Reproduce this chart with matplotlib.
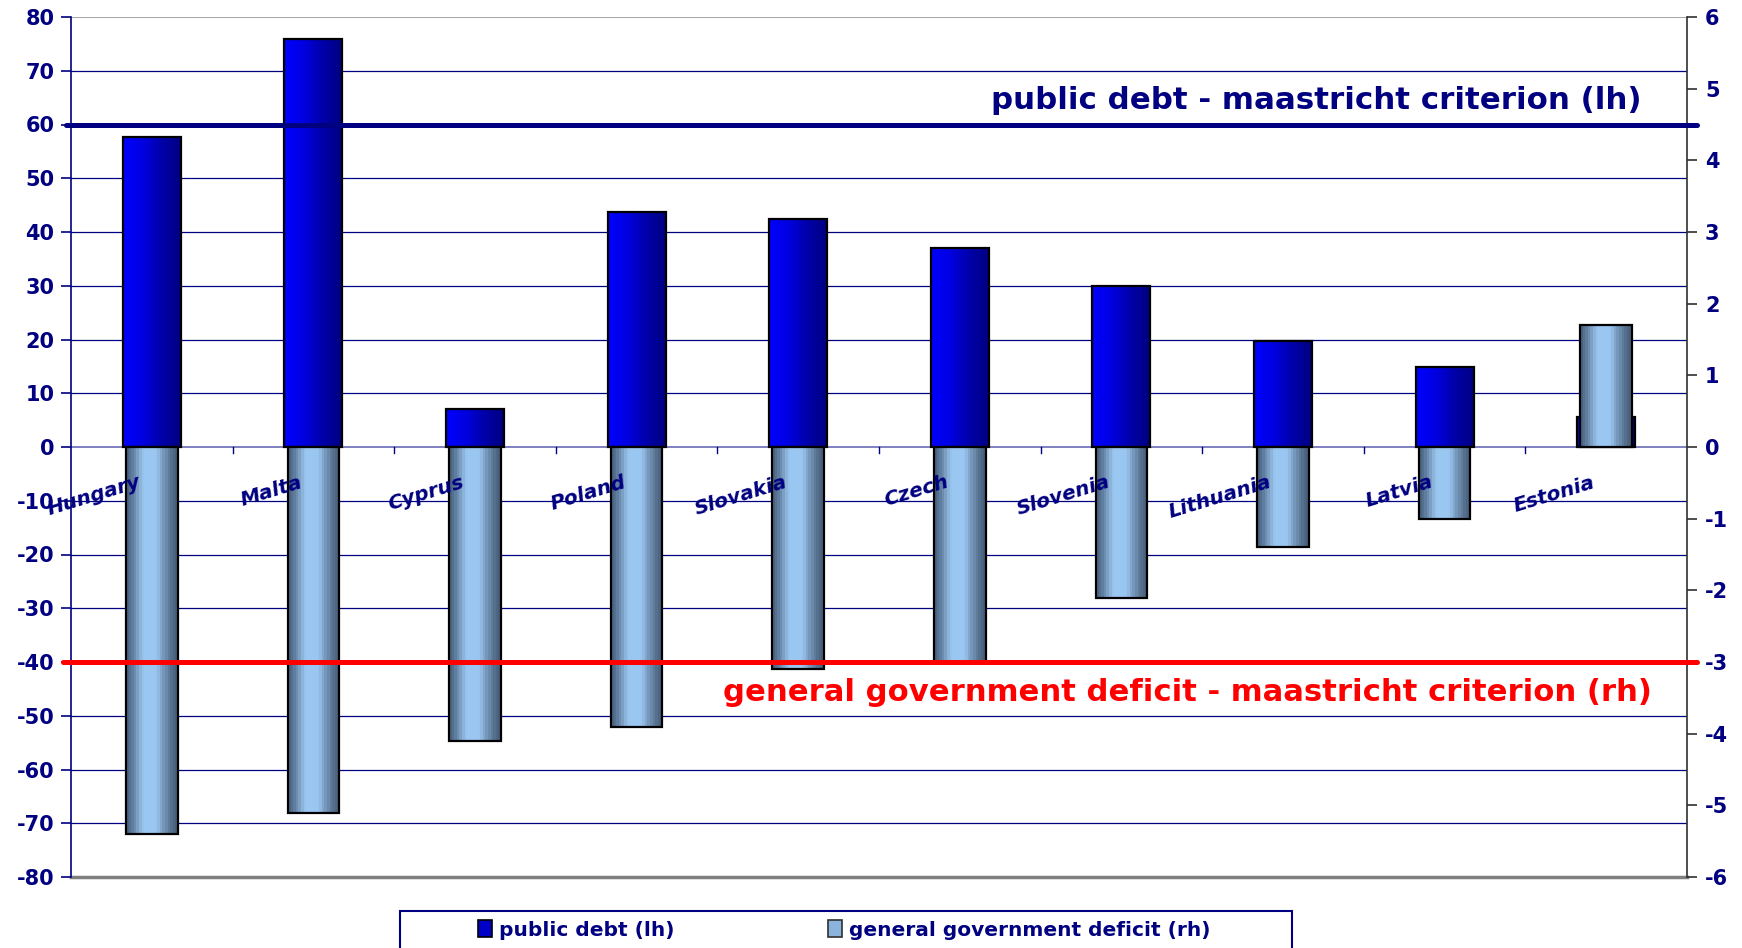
import numpy as np
import matplotlib
matplotlib.use("Agg")
import matplotlib.pyplot as plt
from matplotlib.colors import LinearSegmentedColormap, ListedColormap
from matplotlib.patches import Patch, Rectangle
from matplotlib.transforms import blended_transform_factory, ScaledTranslation

countries = ['Hungary', 'Malta', 'Cyprus', 'Poland', 'Slovakia',
             'Czech', 'Slovenia', 'Lithuania', 'Latvia', 'Estonia']
debt = [57.6, 76.0, 7.0, 43.8, 42.5, 37.0, 29.9, 19.7, 14.8, 5.5]       # % of GDP, left axis
deficit = [-5.4, -5.1, -4.1, -3.9, -3.1, -3.0, -2.1, -1.4, -1.0, 1.7]   # % of GDP, right axis
debt_limit = 60
deficit_limit = -3

NAVY = '#000080'
plt.rcParams['font.family'] = ['DejaVu Sans']
plt.rcParams['font.weight'] = 'bold'
plt.rcParams['axes.unicode_minus'] = False

fig = plt.figure(figsize=(17.42, 9.48), dpi=100)
ax = fig.add_axes([71 / 1742, 1 - 877 / 948, 1616 / 1742, 860 / 948])
ax2 = ax.twinx()

x = np.arange(len(countries))

# debt bars: blue -> navy gradient
debt_cmap = LinearSegmentedColormap.from_list('debt', ['#0000ff', '#0000e0', '#0000a8', '#000080'])
grad = np.linspace(0, 1, 64).reshape(1, -1)
w1 = 0.36
ax.bar(x, debt, w1, facecolor='none', edgecolor='black', lw=1.6, zorder=4)
for xi, v in zip(x, debt):
    ax.imshow(grad, extent=(xi - w1 / 2, xi + w1 / 2, min(0, v), max(0, v)),
              cmap=debt_cmap, aspect='auto', zorder=3, interpolation='bicubic')

# deficit bars: cylinder look
cyl = ListedColormap(['#4b6483', '#55708f', '#5f7d9e', '#6c8db0', '#7c9fc4', '#8cb3da',
                      '#97c2ec', '#9ac6f2', '#9ac6f2', '#9ac6f2', '#9ac6f2', '#98c4ef',
                      '#90b8e0', '#82a7cc', '#7597bb', '#6a89ab', '#5e7b9a', '#55708d',
                      '#4e6684', '#485f7b'])
grad2 = np.linspace(0, 1, 20).reshape(1, -1)
w2 = 0.32
ax2.bar(x, deficit, w2, facecolor='none', edgecolor='black', lw=1.6, zorder=4)
for xi, v in zip(x, deficit):
    ax2.imshow(grad2, extent=(xi - w2 / 2, xi + w2 / 2, min(0, v), max(0, v)),
               cmap=cyl, aspect='auto', zorder=3, interpolation='nearest')

ax.set_xlim(-0.5, len(countries) - 0.5)
ax.set_ylim(-80, 80)
ax2.set_ylim(-6, 6)
ax2.set_xlim(-0.5, len(countries) - 0.5)

# gridlines
for g in range(-70, 80, 10):
    if g != 0:
        ax.axhline(g, color=NAVY, lw=0.9, zorder=1)
ax.axhline(80, color='#a8a8a8', lw=1.5, zorder=1)
ax.axhline(-80, color='#808080', lw=2.5, zorder=1, clip_on=False)
ax.axhline(0, color='#6b6bb5', lw=1.2, zorder=2)
for b in np.arange(0.5, len(countries) - 0.5, 1):
    ax.plot([b, b], [0, -1.2], color=NAVY, lw=1, zorder=2)

# axes styling
for s in ['top', 'bottom']:
    ax.spines[s].set_visible(False)
    ax2.spines[s].set_visible(False)
ax.spines['left'].set_color(NAVY)
ax.spines['left'].set_linewidth(1.2)
ax2.spines['left'].set_visible(False)
ax2.spines['right'].set_color('#303030')
ax2.spines['right'].set_linewidth(1.2)
ax.spines['right'].set_visible(False)

ax.set_xticks([])
ax.set_yticks(range(-80, 81, 10))
ax.tick_params(axis='y', colors=NAVY, labelsize=15, length=7, width=1.2, pad=5)
ax2.set_yticks(range(-6, 7, 1))
ax2.tick_params(axis='y', color='#303030', labelcolor=NAVY, labelsize=15, length=7, width=1.2, pad=6)
for t in ax.get_yticklabels() + ax2.get_yticklabels():
    t.set_fontweight('heavy')

# country labels, tilted under the zero line (on top of the deficit bars)
off = ScaledTranslation(-0.10, -0.40, fig.dpi_scale_trans)
for xi, name in zip(x, countries):
    ax2.text(xi, 0, name, transform=ax.transData + off, rotation=17,
             rotation_mode='anchor', ha='right', va='baseline',
             fontsize=14.5, fontweight='bold', fontstyle='italic', color=NAVY, zorder=8)

# maastricht criteria lines
tr = blended_transform_factory(ax2.transAxes, ax.transData)
ax2.plot([-0.003, 1.006], [debt_limit, debt_limit], transform=tr, color=NAVY,
         lw=3.6, solid_capstyle='round', clip_on=False, zorder=6)
ax2.plot([-0.005, 1.006], [deficit_limit * 80 / 6] * 2, transform=tr, color='#ff0000',
         lw=3.6, solid_capstyle='round', clip_on=False, zorder=6)
ax2.text(0.972, 64.4, 'public debt - maastricht criterion (lh)', transform=tr,
         ha='right', va='center', fontsize=22.2, fontweight='bold', color=NAVY, zorder=7)
ax2.text(0.978, -45.6, 'general government deficit - maastricht criterion (rh)', transform=tr,
         ha='right', va='center', fontsize=22.1, fontweight='bold', color='#ff0000', zorder=7)

# legend
fig.patches.append(Rectangle((400 / 1742, -0.05), 892 / 1742, 0.05 + (948 - 911) / 948,
                             transform=fig.transFigure, fill=False, edgecolor=NAVY, lw=1.5))
handles = [Patch(facecolor='#0000c8', edgecolor='black', lw=1.2),
           Patch(facecolor='#8ab4de', edgecolor='#303030', lw=1.2)]
fig.legend(handles, ['public debt (lh)', 'general government deficit (rh)'],
           loc='center left', bbox_to_anchor=(478 / 1742, 1 - 930 / 948), ncol=2,
           frameon=False, borderpad=0, borderaxespad=0, columnspacing=7.6,
           handlelength=0.7, handleheight=0.85, handletextpad=0.35,
           prop={'size': 14.5, 'weight': 'bold'}, labelcolor=NAVY)

fig.savefig('out.png', dpi=100)
